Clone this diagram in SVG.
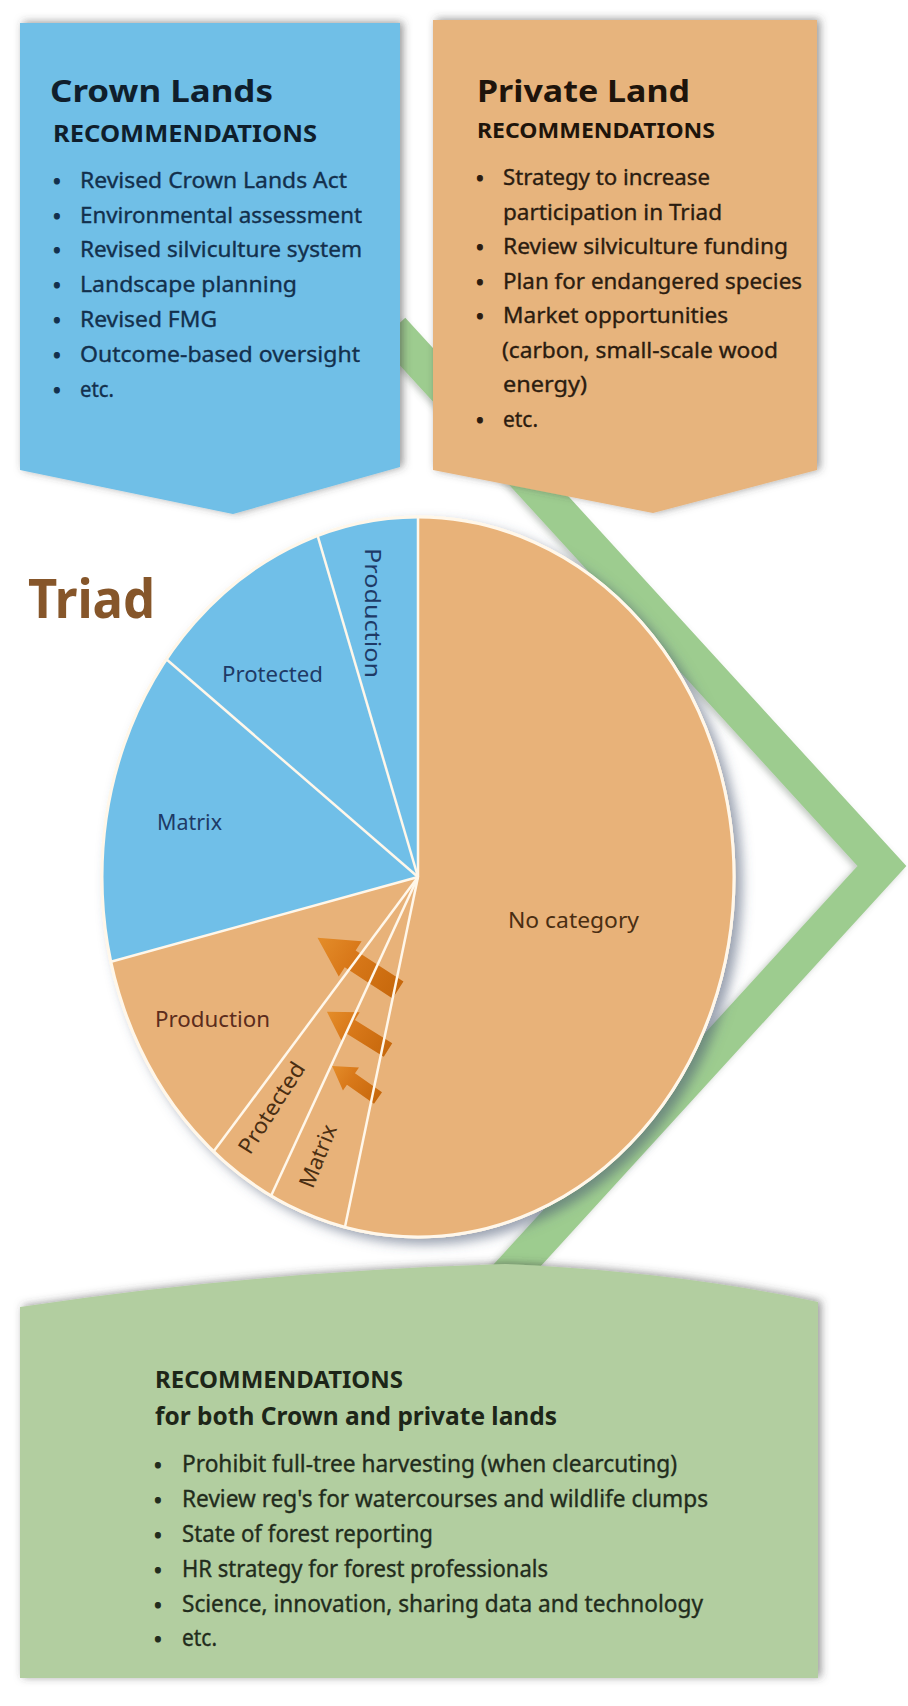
<svg xmlns="http://www.w3.org/2000/svg" width="908" height="1706" viewBox="0 0 908 1706">
<defs>
<style>
.t{font-family:"Noto Sans","Open Sans","Liberation Sans",sans-serif}
.title{font-size:30px;font-weight:700}
.rec{font-size:24px;font-weight:700}
.li{font-size:22px;stroke-width:0.35px}
.bul{font-size:18px;font-weight:700;text-anchor:middle}
.crown{fill:#13304d;stroke:#13304d}
.priv{fill:#2b1c10;stroke:#2b1c10}
.grn{fill:#222c1c;stroke:#222c1c}
.pb{font-size:22px;fill:#1e3a66}
.po{font-size:22px;fill:#4a2e12}
.sep{stroke:#fff7ea;stroke-width:2.5;fill:none}
</style>
<filter id="boxShadow" x="-10%" y="-10%" width="125%" height="125%">
<feDropShadow dx="3" dy="-1" stdDeviation="4" flood-color="#3d3d3d" flood-opacity="0.55"/>
</filter>
<filter id="pieShadow" x="-10%" y="-10%" width="125%" height="125%">
<feDropShadow dx="7" dy="6" stdDeviation="6" flood-color="#4a5570" flood-opacity="0.55"/>
</filter>
<filter id="bandShadow" x="-10%" y="-10%" width="125%" height="125%">
<feDropShadow dx="-3" dy="2" stdDeviation="3" flood-color="#556655" flood-opacity="0.35"/>
</filter>
<linearGradient id="arrowGrad" x1="0" y1="0" x2="1" y2="0">
<stop offset="0" stop-color="#c7680c"/>
<stop offset="0.6" stop-color="#d9791a"/>
<stop offset="1" stop-color="#e48d2a"/>
</linearGradient>
</defs>
<rect x="0" y="0" width="908" height="1706" fill="#ffffff"/>

<g id="connectors">
<polyline points="392,330 882,866 490,1295" fill="none" stroke="#9dcc8f" stroke-width="36" stroke-linejoin="miter" stroke-miterlimit="10" filter="url(#bandShadow)"/>
</g>

<g id="crown-lands">
<path d="M20,23 H400 V467 L233,514 L20,470 Z" fill="#6fbfe7" filter="url(#boxShadow)"/>
<text class="t title" x="50" y="102" textLength="223" lengthAdjust="spacingAndGlyphs" fill="#0f1e2c">Crown Lands</text>
<text class="t rec" x="53" y="142" textLength="264" lengthAdjust="spacingAndGlyphs" fill="#0f1e2c">RECOMMENDATIONS</text>
<g class="t crown">
<text class="bul" x="57" y="188">•</text>
<text class="bul" x="57" y="223">•</text>
<text class="bul" x="57" y="257">•</text>
<text class="bul" x="57" y="292">•</text>
<text class="bul" x="57" y="327">•</text>
<text class="bul" x="57" y="362">•</text>
<text class="bul" x="57" y="397">•</text>
<text class="li" x="80" y="188" textLength="267" lengthAdjust="spacingAndGlyphs">Revised Crown Lands Act</text>
<text class="li" x="80" y="223" textLength="282" lengthAdjust="spacingAndGlyphs">Environmental assessment</text>
<text class="li" x="80" y="257" textLength="282" lengthAdjust="spacingAndGlyphs">Revised silviculture system</text>
<text class="li" x="80" y="292" textLength="217" lengthAdjust="spacingAndGlyphs">Landscape planning</text>
<text class="li" x="80" y="327" textLength="137" lengthAdjust="spacingAndGlyphs">Revised FMG</text>
<text class="li" x="80" y="362" textLength="280" lengthAdjust="spacingAndGlyphs">Outcome-based oversight</text>
<text class="li" x="80" y="397" textLength="34" lengthAdjust="spacingAndGlyphs">etc.</text>
</g>
</g>

<g id="private-land">
<path d="M433,20 H817 V470 L653,513 L433,470 Z" fill="#e7b47d" filter="url(#boxShadow)"/>
<text class="t title" x="477" y="102" textLength="213" lengthAdjust="spacingAndGlyphs" fill="#1e140b">Private Land</text>
<text class="t rec" x="477" y="138" textLength="238" lengthAdjust="spacingAndGlyphs" style="font-size:22px" fill="#1e140b">RECOMMENDATIONS</text>
<g class="t priv">
<text class="bul" x="480" y="185">•</text>
<text class="bul" x="480" y="254">•</text>
<text class="bul" x="480" y="288.5">•</text>
<text class="bul" x="480" y="323">•</text>
<text class="bul" x="480" y="426.5">•</text>
<text class="li" x="503" y="185" textLength="207" lengthAdjust="spacingAndGlyphs">Strategy to increase</text>
<text class="li" x="503" y="219.5" textLength="219" lengthAdjust="spacingAndGlyphs">participation in Triad</text>
<text class="li" x="503" y="254" textLength="285" lengthAdjust="spacingAndGlyphs">Review silviculture funding</text>
<text class="li" x="503" y="288.5" textLength="299" lengthAdjust="spacingAndGlyphs">Plan for endangered species</text>
<text class="li" x="503" y="323" textLength="225" lengthAdjust="spacingAndGlyphs">Market opportunities</text>
<text class="li" x="502" y="357.5" textLength="276" lengthAdjust="spacingAndGlyphs">(carbon, small-scale wood</text>
<text class="li" x="503" y="392" textLength="84" lengthAdjust="spacingAndGlyphs">energy)</text>
<text class="li" x="503" y="426.5" textLength="35" lengthAdjust="spacingAndGlyphs">etc.</text>
</g>
</g>

<g id="triad">
<text class="t" x="28" y="618" textLength="127" lengthAdjust="spacingAndGlyphs" style="font-size:54px;font-weight:700" fill="#86562a">Triad</text>
<g filter="url(#pieShadow)">
<ellipse cx="418" cy="877" rx="316" ry="360" fill="#e8b279" stroke="#fff7ea" stroke-width="3"/>
</g>
<path d="M418,877 L418,517 A316,360 0 0 0 317.6,535.6 Z" fill="#70bfe8"/>
<path d="M418,877 L317.6,535.6 A316,360 0 0 0 166.4,659.2 Z" fill="#70bfe8"/>
<path d="M418,877 L166.4,659.2 A316,360 0 0 0 110.9,961.8 Z" fill="#70bfe8"/>
<path d="M418,877 L110.9,961.8 A316,360 0 0 0 213.6,1151.6 Z" fill="#e8b279"/>
<path d="M418,877 L213.6,1151.6 A316,360 0 0 0 271.1,1195.8 Z" fill="#e8b279"/>
<path d="M418,877 L271.1,1195.8 A316,360 0 0 0 344.9,1227.2 Z" fill="#e8b279"/>
<path d="M418,877 L344.9,1227.2 A316,360 0 1 0 418,517 Z" fill="#e8b279"/>
<g id="arrows">
<polygon points="0,-10 57,-10 57,-21 96,0 57,21 57,10 0,10" fill="url(#arrowGrad)" transform="translate(398,990) rotate(-147)"/>
<polygon points="0,-8 44,-8 44,-17 72,0 44,17 44,8 0,8" fill="url(#arrowGrad)" transform="translate(388,1050) rotate(-148)"/>
<polygon points="0,-7 33,-7 33,-14 56,0 33,14 33,7 0,7" fill="url(#arrowGrad)" transform="translate(378,1098) rotate(-145)"/>
</g>
<g class="sep">
<line x1="418" y1="877" x2="418" y2="517"/>
<line x1="418" y1="877" x2="317.6" y2="535.6"/>
<line x1="418" y1="877" x2="166.4" y2="659.2"/>
<line x1="418" y1="877" x2="110.9" y2="961.8"/>
<line x1="418" y1="877" x2="213.6" y2="1151.6"/>
<line x1="418" y1="877" x2="271.1" y2="1195.8"/>
<line x1="418" y1="877" x2="344.9" y2="1227.2"/>
</g>
<ellipse cx="418" cy="877" rx="316" ry="360" fill="none" stroke="#fff7ea" stroke-width="3"/>
<text class="t pb" text-anchor="middle" transform="translate(365,613) rotate(90)" textLength="130" lengthAdjust="spacingAndGlyphs">Production</text>
<text class="t pb" x="222" y="682" textLength="101" lengthAdjust="spacingAndGlyphs">Protected</text>
<text class="t pb" x="157" y="830" textLength="65" lengthAdjust="spacingAndGlyphs">Matrix</text>
<text class="t po" x="508" y="928" textLength="131" lengthAdjust="spacingAndGlyphs">No category</text>
<text class="t po" x="155" y="1027" textLength="115" lengthAdjust="spacingAndGlyphs" style="fill:#5b2c1c">Production</text>
<text class="t po" text-anchor="middle" transform="translate(278,1112) rotate(-57.5)" textLength="104" lengthAdjust="spacingAndGlyphs">Protected</text>
<text class="t po" text-anchor="middle" transform="translate(325,1159) rotate(-68)" textLength="66" lengthAdjust="spacingAndGlyphs">Matrix</text>
</g>

<g id="both-lands">
<path d="M20,1307 Q250,1272 505,1264 Q680,1272 818,1302 L818,1678 L20,1678 Z" fill="#b2cea0" filter="url(#boxShadow)"/>
<text class="t rec" x="155" y="1388" textLength="248" lengthAdjust="spacingAndGlyphs" fill="#1d2618">RECOMMENDATIONS</text>
<text class="t" x="155" y="1425" textLength="402" lengthAdjust="spacingAndGlyphs" style="font-size:25px;font-weight:700" fill="#1d2618">for both Crown and private lands</text>
<g class="t grn">
<text class="bul" x="158" y="1472">•</text>
<text class="bul" x="158" y="1507">•</text>
<text class="bul" x="158" y="1542">•</text>
<text class="bul" x="158" y="1577">•</text>
<text class="bul" x="158" y="1612">•</text>
<text class="bul" x="158" y="1646">•</text>
<text class="li" x="182" y="1472" textLength="495" lengthAdjust="spacingAndGlyphs" style="font-size:23px">Prohibit full-tree harvesting (when clearcuting)</text>
<text class="li" x="182" y="1507" textLength="526" lengthAdjust="spacingAndGlyphs" style="font-size:23px">Review reg's for watercourses and wildlife clumps</text>
<text class="li" x="182" y="1542" textLength="251" lengthAdjust="spacingAndGlyphs" style="font-size:23px">State of forest reporting</text>
<text class="li" x="182" y="1577" textLength="366" lengthAdjust="spacingAndGlyphs" style="font-size:23px">HR strategy for forest professionals</text>
<text class="li" x="182" y="1612" textLength="521" lengthAdjust="spacingAndGlyphs" style="font-size:23px">Science, innovation, sharing data and technology</text>
<text class="li" x="182" y="1646" textLength="35" lengthAdjust="spacingAndGlyphs" style="font-size:23px">etc.</text>
</g>
</g>
</svg>
